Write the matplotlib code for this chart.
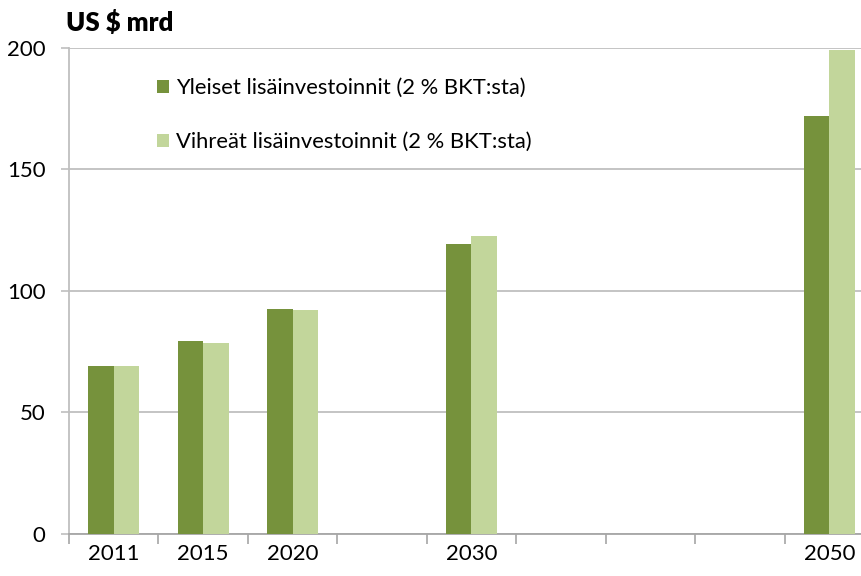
import matplotlib
matplotlib.use("Agg")
import matplotlib.pyplot as plt
import numpy as np
from matplotlib.patches import Patch

categories = ["2011", "2015", "2020", "", "2030", "", "", "", "2050"]
general = [69.2, 79.2, 92.4, np.nan, 119.1, np.nan, np.nan, np.nan, 171.9]
green = [69.2, 78.5, 92.0, np.nan, 122.4, np.nan, np.nan, np.nan, 198.8]
series_names = ["Yleiset lisäinvestoinnit (2 % BKT:sta)",
                "Vihreät lisäinvestoinnit (2 % BKT:sta)"]
y_ticks = [0, 50, 100, 150, 200]

dark = "#76923C"
light = "#C2D69B"
grid_c = "#BFBFBF"

plt.rcParams['font.family'] = ['Lato', 'DejaVu Sans']

W, H = 861, 576
fig = plt.figure(figsize=(W / 100, H / 100), dpi=100)
left, right, top, bottom = 69, 874, 47.5, 534
ax = fig.add_axes([left / W, 1 - bottom / H, (right - left) / W, (bottom - top) / H])

x = np.arange(len(categories))
bw = 0.285
ax.bar(x - bw / 2, general, width=bw, color=dark, label=series_names[0], zorder=3)
ax.bar(x + bw / 2, green, width=bw, color=light, label=series_names[1], zorder=3)

ax.set_xlim(-0.5, len(categories) - 0.5)
ax.set_ylim(0, 200)
ax.set_yticks(y_ticks)
ax.set_yticklabels([str(v) for v in y_ticks], fontsize=16)
ax.yaxis.grid(True, color=grid_c, linewidth=1.3, zorder=0)
ax.set_axisbelow(True)

ax.set_xticks(x)
ax.set_xticklabels(categories, fontsize=16)
ax.set_xticks(np.arange(len(categories) + 1) - 0.5, minor=True)
ax.tick_params(axis='x', which='major', length=0, pad=7)
ax.tick_params(axis='x', which='minor', length=7, width=1.2, color="#A6A6A6", direction='out')
ax.tick_params(axis='y', length=6, width=1.2, color=grid_c, pad=11)

for s in ["top", "right"]:
    ax.spines[s].set_visible(False)
ax.spines["left"].set_color(grid_c)
ax.spines["left"].set_linewidth(1.3)
ax.spines["bottom"].set_color("#A6A6A6")
ax.spines["bottom"].set_linewidth(1.3)

fig.text(66 / W, 1 - 22 / H, "US $ mrd", fontsize=18.5, fontweight='heavy', va='center', ha='left')

handles = [Patch(facecolor=dark), Patch(facecolor=light)]
leg = ax.legend(handles, series_names, loc='upper left',
                bbox_to_anchor=(157 / W, 1 - 78 / H), bbox_transform=fig.transFigure,
                frameon=False, fontsize=15.8, handlelength=0.55, handleheight=0.55,
                handletextpad=0.3, labelspacing=1.55, borderaxespad=0, borderpad=0)

fig.savefig("out.png", dpi=100)
